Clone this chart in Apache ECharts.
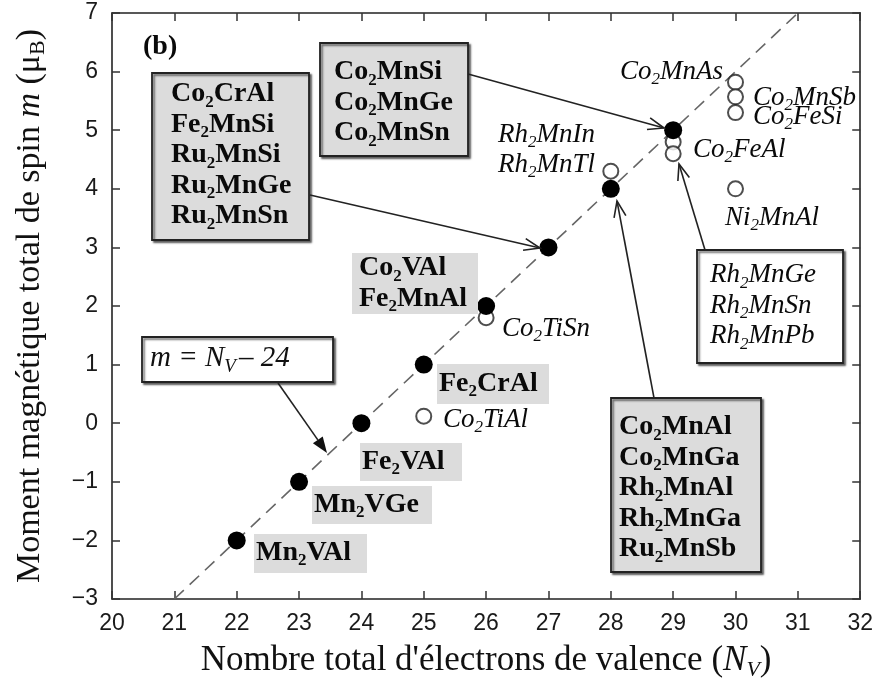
<!DOCTYPE html>
<html><head><meta charset="utf-8">
<script src="https://cdn.jsdelivr.net/npm/echarts@6/dist/echarts.min.js"></script>
<style>html,body{margin:0;padding:0;background:#fff}#c{width:876px;height:686px}</style>
</head><body><div id="c"></div>
<script>
// ---- data ----
const xTicks = [20,21,22,23,24,25,26,27,28,29,30,31,32];
const yTicks = [-3,-2,-1,0,1,2,3,4,5,6,7];
// half-metallic compounds on the Slater-Pauling line (filled circles)
const filledNv = [22,23,24,25,26,27,28,29];
const filledM  = [-2,-1,0,1,2,3,4,5];
// other compounds (open circles)
const openNv = [25,26,28,29,29,30,30,30,30];
const openM  = [0.12,1.8,4.3,4.8,4.6,5.82,5.57,5.3,4.0];
// Slater-Pauling rule m = Nv - 24
const ruleNv = [21,31];
const ruleM  = [-3,7];

const SERIF = '"Liberation Serif","DejaVu Serif",serif';
const chart = echarts.init(document.getElementById('c'), null, {renderer:'canvas'});

function richStyles(weight, style, size){
  return {
    n:{fontFamily:SERIF,fontSize:size,fontWeight:weight,fontStyle:style,fill:'#0a0a0a',color:'#0a0a0a',lineHeight:30.5},
    s:{fontFamily:SERIF,fontSize:Math.round(size*0.62),fontWeight:weight,fontStyle:style,fill:'#0a0a0a',color:'#0a0a0a',lineHeight:30.5,padding:[16,0,0,0]}
  };
}
function chem(str){
  return str.split('\n').map(line=>line.replace(/(\d+)|([^\d]+)/g,(m,d,t)=> d?('{s|'+d+'}'):('{n|'+t+'}'))).join('\n');
}
function txt(x,y,str,opt){
  opt = opt||{};
  const size = opt.size||(opt.bold?28:27);
  const weight = opt.bold?'bold':'normal';
  const fstyle = opt.italic?'italic':'normal';
  return {type:'text', x:x, y:y, z:100,
    style:{text:chem(str), fontFamily:SERIF, fontSize:size, fontWeight:weight, fontStyle:fstyle,
      fill:'#0a0a0a', align:opt.align||'left', textAlign:opt.align||'left',
      verticalAlign:opt.va||'middle', textVerticalAlign:opt.va||'middle', lineHeight:30.5,
      rich:richStyles(weight,fstyle,size)}};
}
function box(x1,y1,x2,y2,fill,border){
  const st = {fill:fill};
  if(border){ Object.assign(st,{stroke:'#222',lineWidth:1.8,shadowBlur:2,shadowOffsetX:2,shadowOffsetY:2,shadowColor:'rgba(0,0,0,0.55)'}); }
  return {type:'rect', z:90, shape:{x:x1,y:y1,width:x2-x1,height:y2-y1}, style:st};
}
function arrow(x1,y1,x2,y2,filled){
  const a = Math.atan2(y2-y1,x2-x1), L = filled?16:16, W = filled?6:6;
  const bx = x2 - L*Math.cos(a), by = y2 - L*Math.sin(a);
  const px = -Math.sin(a)*W, py = Math.cos(a)*W;
  const els = [{type:'line', z:95, shape:{x1:x1,y1:y1,x2:filled?bx:x2,y2:filled?by:y2}, style:{stroke:'#222',lineWidth:1.6}}];
  if(filled){
    els.push({type:'polygon', z:95, shape:{points:[[x2,y2],[bx+px,by+py],[bx-px,by-py]]}, style:{fill:'#111'}});
  } else {
    els.push({type:'polyline', z:95, shape:{points:[[bx+px,by+py],[x2,y2],[bx-px,by-py]]}, style:{stroke:'#222',lineWidth:1.6,fill:null}});
  }
  return els;
}

const G = '#dcdcdc';
let graphics = [];
// (b)
graphics.push(txt(143,47,'(b)',{bold:true,size:28}));
// Box A
graphics.push(box(152,73,309,240,G,true));
graphics.push(txt(171,79,'Co2CrAl\nFe2MnSi\nRu2MnSi\nRu2MnGe\nRu2MnSn',{bold:true,va:'top'}));
graphics.push(...arrow(310,195,540,248,false));
// Box B
graphics.push(box(320,43,468,156,G,true));
graphics.push(txt(334,57,'Co2MnSi\nCo2MnGe\nCo2MnSn',{bold:true,va:'top'}));
graphics.push(...arrow(468,74,664,128,false));
// gray labels
graphics.push(box(352,253,478,314,G,false));
graphics.push(txt(359,253,'Co2VAl\nFe2MnAl',{bold:true,va:'top'}));
graphics.push(box(437,364,549,404,G,false));
graphics.push(txt(439,384,'Fe2CrAl',{bold:true}));
graphics.push(box(360,443,462,481,G,false));
graphics.push(txt(362,462,'Fe2VAl',{bold:true}));
graphics.push(box(312,486,432,524,G,false));
graphics.push(txt(314,505,'Mn2VGe',{bold:true}));
graphics.push(box(254,534,367,573,G,false));
graphics.push(txt(256,553,'Mn2VAl',{bold:true}));
// italic labels
graphics.push(txt(443,420,'Co2TiAl',{italic:true}));
graphics.push(txt(502,329,'Co2TiSn',{italic:true}));
graphics.push(txt(620,72,'Co2MnAs',{italic:true}));
graphics.push(txt(753,98,'Co2MnSb',{italic:true}));
graphics.push(txt(753,117,'Co2FeSi',{italic:true}));
graphics.push(txt(693,150,'Co2FeAl',{italic:true}));
graphics.push(txt(498,135,'Rh2MnIn',{italic:true}));
graphics.push(txt(498,165,'Rh2MnTl',{italic:true}));
graphics.push(txt(725,218,'Ni2MnAl',{italic:true}));
// Rh box
graphics.push(box(697,250,843,363,'#fff',true));
graphics.push(txt(710,260,'Rh2MnGe\nRh2MnSn\nRh2MnPb',{italic:true,va:'top'}));
graphics.push(...arrow(705,250,679,164,false));
// Co2MnAl box
graphics.push(box(611,398,761,572,G,true));
graphics.push(txt(619,412,'Co2MnAl\nCo2MnGa\nRh2MnAl\nRh2MnGa\nRu2MnSb',{bold:true,va:'top'}));
graphics.push(...arrow(654,398,617,201,false));
// m = Nv - 24 box
graphics.push(box(142,337,333,382,'#fff',true));
graphics.push({type:'text', x:150, y:358, z:100, style:{
  text:'{i|m = N}{v|V}{i|– 24}', align:'left', textAlign:'left', verticalAlign:'middle', textVerticalAlign:'middle',
  fontFamily:SERIF, fontSize:29, fontStyle:'italic', fill:'#111',
  rich:{i:{fontFamily:SERIF,fontSize:29,fontStyle:'italic',fill:'#111',color:'#111',lineHeight:32},
        v:{fontFamily:SERIF,fontSize:19,fontStyle:'italic',fill:'#111',color:'#111',lineHeight:32,padding:[18,3,0,0]}}}});
graphics.push(...arrow(278,383,327,453,true));

const axisLine = {show:true, onZero:false, lineStyle:{color:'#222', width:1.6}};
const tick = {show:true, inside:true, length:8, lineStyle:{color:'#333', width:1.5}};
const tickFont = {fontFamily:'"Liberation Sans",Arial,sans-serif', fontSize:23, color:'#1a1a1a'};

chart.setOption({
  animation:false,
  backgroundColor:'#fff',
  grid:{left:112, right:11, top:13, bottom:80, containLabel:false},
  xAxis:[{
    type:'value', min:20, max:32, interval:1, position:'bottom',
    axisLine:axisLine, axisTick:tick, splitLine:{show:false},
    axisLabel:Object.assign({margin:13, formatter:v=> xTicks.includes(v)?String(v):''}, tickFont),
    name:'Nombre total d\'électrons de valence ({i|N}{s|V})', nameLocation:'middle', nameGap:42,
    nameTextStyle:{fontFamily:SERIF, fontSize:35, color:'#111',
      rich:{i:{fontFamily:SERIF,fontSize:35,fontStyle:'italic',color:'#111'},
            s:{fontFamily:SERIF,fontSize:22,fontStyle:'italic',color:'#111',padding:[18,0,0,0]}}}
  },{
    type:'value', min:20, max:32, interval:1, position:'top',
    axisLine:axisLine, axisTick:tick, axisLabel:{show:false}, splitLine:{show:false}
  }],
  yAxis:[{
    type:'value', min:-3, max:7, interval:1, position:'left',
    axisLine:axisLine, axisTick:tick, splitLine:{show:false},
    axisLabel:Object.assign({margin:14, formatter:v=> yTicks.includes(v)?String(v).replace('-','−'):''}, tickFont),
    name:'Moment magnétique total de spin {i|m} (μ{s|B})', nameLocation:'middle', nameGap:63,
    nameTextStyle:{fontFamily:SERIF, fontSize:34, color:'#111',
      rich:{i:{fontFamily:SERIF,fontSize:34,fontStyle:'italic',color:'#111'},
            s:{fontFamily:SERIF,fontSize:22,color:'#111',padding:[16,0,0,0]}}}
  },{
    type:'value', min:-3, max:7, interval:1, position:'right',
    axisLine:axisLine, axisTick:tick, axisLabel:{show:false}, splitLine:{show:false}
  }],
  series:[
    {type:'line', name:'m = Nv - 24', data:ruleNv.map((v,i)=>[v,ruleM[i]]), symbol:'none', silent:true, z:2,
     lineStyle:{color:'#666', width:1.6, type:[13,8]}},
    {type:'scatter', name:'open', data:openNv.map((v,i)=>[v,openM[i]]), symbol:'circle', symbolSize:15, z:5,
     itemStyle:{color:'#fff', borderColor:'#222', borderWidth:2}},
    {type:'scatter', name:'filled', data:filledNv.map((v,i)=>[v,filledM[i]]), symbol:'circle', symbolSize:18, z:6,
     itemStyle:{color:'#000', borderColor:'#000', borderWidth:0, opacity:1}}
  ],
  graphic:graphics
});
</script>
</body></html>
